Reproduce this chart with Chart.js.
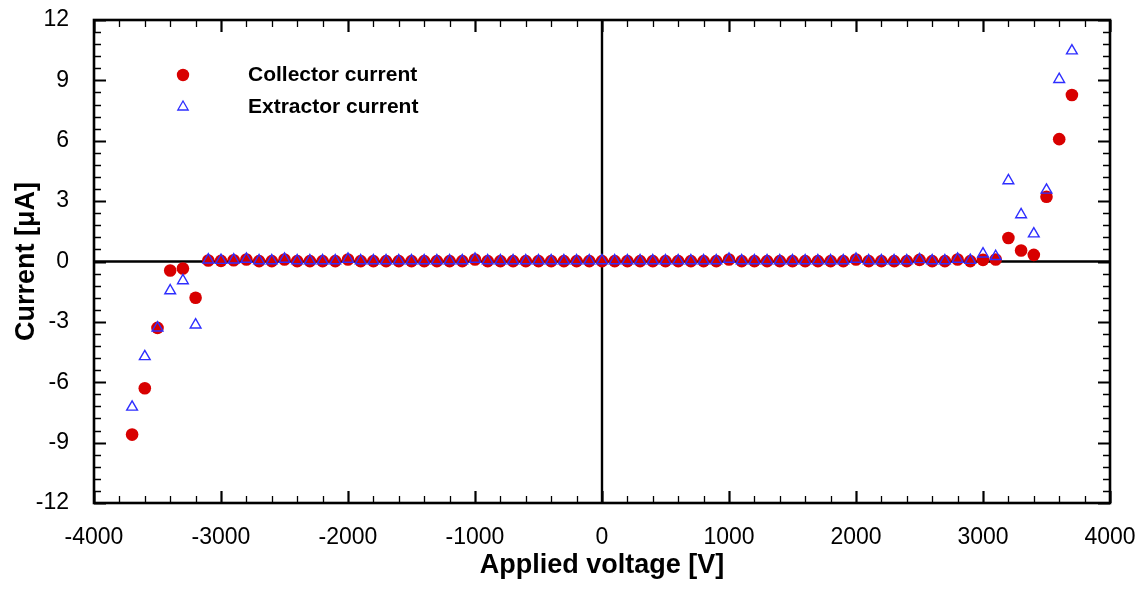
<!DOCTYPE html>
<html>
<head>
<meta charset="utf-8">
<script src="https://cdn.jsdelivr.net/npm/chart.js@4/dist/chart.umd.min.js"></script>
<style>
html,body{margin:0;padding:0;background:#fff;}
#wrap{width:1145px;height:592px;position:relative;}
</style>
</head>
<body>
<div id="wrap"><canvas id="c" width="1145" height="592"></canvas></div>
<script>
const voltages = [-3700,-3600,-3500,-3400,-3300,-3200,-3100,-3000,-2900,-2800,-2700,-2600,-2500,-2400,-2300,-2200,-2100,-2000,-1900,-1800,-1700,-1600,-1500,-1400,-1300,-1200,-1100,-1000,-900,-800,-700,-600,-500,-400,-300,-200,-100,0,100,200,300,400,500,600,700,800,900,1000,1100,1200,1300,1400,1500,1600,1700,1800,1900,2000,2100,2200,2300,2400,2500,2600,2700,2800,2900,3000,3100,3200,3300,3400,3500,3600,3700];

const collectorCurrent = [-8.6,-6.3,-3.3,-0.45,-0.35,-1.8,
  0.05,0.03,0.06,0.1,0.02,0.02,0.1,0.02,0.02,0.02,0.02,0.1,0.02,0.02,0.02,0.02,0.02,0.02,0.02,0.02,0.02,0.1,0.02,0.02,0.02,0.02,0.02,0.02,0.02,0.02,0.02,
  0.02,
  0.02,0.02,0.02,0.02,0.02,0.02,0.02,0.02,0.02,0.1,0.02,0.02,0.02,0.02,0.02,0.02,0.02,0.02,0.02,0.1,0.02,0.02,0.02,0.02,0.08,0.02,0.02,0.1,0.02,
  0.08,0.1,1.17,0.55,0.33,3.22,6.08,8.27];

const extractorCurrent = [-7.23,-4.72,-3.3,-1.45,-0.95,-3.15,
  0.08,0.06,0.08,0.12,0.04,0.04,0.12,0.04,0.04,0.04,0.04,0.12,0.04,0.04,0.04,0.04,0.04,0.04,0.04,0.04,0.04,0.12,0.04,0.04,0.04,0.04,0.04,0.04,0.04,0.04,0.04,
  0.04,
  0.04,0.04,0.04,0.04,0.04,0.04,0.04,0.04,0.04,0.12,0.04,0.04,0.04,0.04,0.04,0.04,0.04,0.04,0.04,0.12,0.04,0.04,0.04,0.04,0.1,0.04,0.04,0.12,0.06,
  0.38,0.25,4.02,2.33,1.38,3.55,9.05,10.47];

const seriesNames = ['Collector current','Extractor current'];
const xTicks = [-4000,-3000,-2000,-1000,0,1000,2000,3000,4000];
const yTicks = [-12,-9,-6,-3,0,3,6,9,12];

const RED = '#d80000';
const BLUE = '#2e2eff';
const FONT = "'Liberation Sans', Arial, sans-serif";

function pts(vals){ return voltages.map((v,i)=>({x:v,y:vals[i]})); }

const framePlugin = {
  id:'frame',
  beforeDatasetsDraw(chart){
    const {ctx, chartArea:a, scales:{x,y}} = chart;
    ctx.save();
    ctx.strokeStyle='#000';
    ctx.lineWidth=2.4;
    const y0=y.getPixelForValue(0), x0=x.getPixelForValue(0);
    ctx.beginPath();
    ctx.moveTo(a.left,y0); ctx.lineTo(a.right,y0);
    ctx.moveTo(x0,a.top); ctx.lineTo(x0,a.bottom);
    ctx.stroke();
    ctx.restore();
  },
  afterDraw(chart){
    const {ctx, chartArea:a, scales:{x,y}} = chart;
    ctx.save();
    ctx.strokeStyle='#000';
    ctx.lineCap='butt';
    for(let v=x.min; v<=x.max+1e-6; v+=200){
      const px=Math.round(x.getPixelForValue(v))+0.5;
      const major = Math.abs(v%1000)<1e-6;
      const len = major?12:7;
      ctx.lineWidth = major?2.2:1.3;
      ctx.beginPath();
      ctx.moveTo(px,a.bottom); ctx.lineTo(px,a.bottom-len);
      ctx.moveTo(px,a.top); ctx.lineTo(px,a.top+len);
      ctx.stroke();
    }
    for(let k=0;k<=40;k++){
      const v=y.min+k*0.6;
      const py=Math.round(y.getPixelForValue(v))+0.5;
      const major = k%5===0;
      const len = major?12:7;
      ctx.lineWidth = major?2.2:1.3;
      ctx.beginPath();
      ctx.moveTo(a.left,py); ctx.lineTo(a.left+len,py);
      ctx.moveTo(a.right,py); ctx.lineTo(a.right-len,py);
      ctx.stroke();
    }
    ctx.lineWidth=2.6;
    ctx.strokeRect(a.left,a.top,a.right-a.left,a.bottom-a.top);
    // legend
    const lx=183, ty=[75,107], tx=248;
    ctx.fillStyle=RED;
    ctx.beginPath(); ctx.arc(lx,ty[0],6.2,0,Math.PI*2); ctx.fill();
    ctx.strokeStyle=BLUE; ctx.lineWidth=1.3;
    const r=6, e=3*r/Math.sqrt(3), h=e*Math.sqrt(3)/2;
    ctx.beginPath();
    ctx.moveTo(lx-e/2, ty[1]+h/3);
    ctx.lineTo(lx+e/2, ty[1]+h/3);
    ctx.lineTo(lx, ty[1]-2*h/3);
    ctx.closePath(); ctx.stroke();
    ctx.fillStyle='#000';
    ctx.font="bold 21px "+FONT;
    ctx.textBaseline='middle';
    ctx.textAlign='left';
    ctx.fillText(seriesNames[0],tx,ty[0]);
    ctx.fillText(seriesNames[1],tx,ty[1]);
    ctx.restore();
  }
};

function zeroPad(s){ s.paddingTop=0; s.paddingBottom=0; s.paddingLeft=0; s.paddingRight=0; }

new Chart(document.getElementById('c'),{
  type:'scatter',
  data:{
    datasets:[
      {label:seriesNames[1], data:pts(extractorCurrent), order:0,
       pointStyle:'triangle', pointRadius:6.2, pointHoverRadius:6.2,
       pointBackgroundColor:'rgba(0,0,0,0)', pointBorderColor:BLUE, pointBorderWidth:1.4},
      {label:seriesNames[0], data:pts(collectorCurrent), order:1,
       pointStyle:'circle', pointRadius:6.3, pointHoverRadius:6.3,
       pointBackgroundColor:RED, pointBorderColor:RED, pointBorderWidth:0}
    ]
  },
  options:{
    responsive:false, animation:false,
    events:[],
    layout:{padding:{top:20,right:35,left:0,bottom:0}},
    plugins:{legend:{display:false}, tooltip:{enabled:false}},
    scales:{
      x:{
        type:'linear', min:-4000, max:4000,
        afterBuildTicks(s){ s.ticks = xTicks.map(v=>({value:v})); },
        afterFit(s){ s.height=89; zeroPad(s); },
        grid:{display:false, drawTicks:false},
        border:{display:false},
        ticks:{padding:21, color:'#000', font:{family:FONT,size:23}, callback:v=>String(v), maxRotation:0, autoSkip:false},
        title:{display:true, text:'Applied voltage [V]', color:'#000', font:{family:FONT,size:27,weight:'bold'}, padding:{top:0,bottom:10}}
      },
      y:{
        type:'linear', min:-12, max:12,
        afterBuildTicks(s){ s.ticks = yTicks.map(v=>({value:v})); },
        afterFit(s){ s.width=94; zeroPad(s); },
        grid:{display:false, drawTicks:false},
        border:{display:false},
        ticks:{padding:25, color:'#000', font:{family:FONT,size:23}, callback:v=>String(v), autoSkip:false},
        title:{display:true, text:'Current [μA]', color:'#000', font:{family:FONT,size:27,weight:'bold'}, padding:{top:10,bottom:0}}
      }
    }
  },
  plugins:[framePlugin]
});
</script>
</body>
</html>
